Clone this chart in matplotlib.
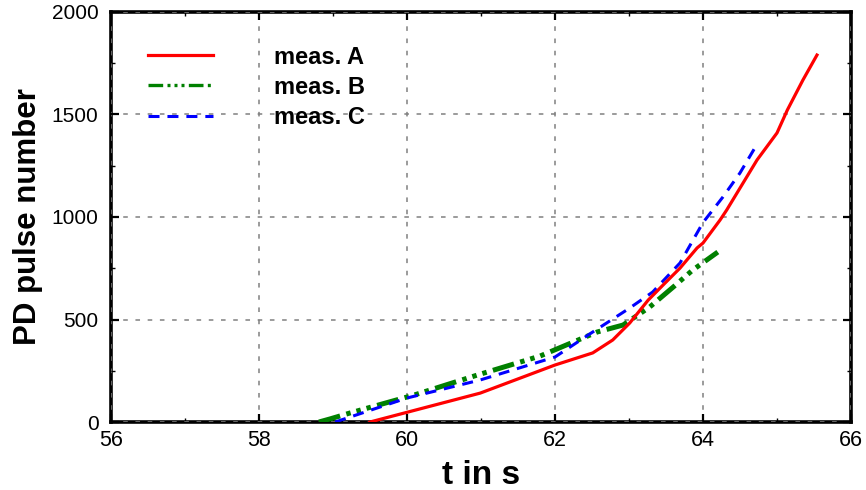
import matplotlib
matplotlib.use("Agg")
import matplotlib.pyplot as plt
from matplotlib.ticker import MultipleLocator

plt.rcParams['font.family'] = ['Liberation Sans', 'DejaVu Sans']

# measurement A (red, solid)
t_a = [59.5, 60.99, 62.0, 62.51, 62.78, 63.01, 63.26, 63.46, 63.69, 63.92,
       64.0, 64.23, 64.32, 64.73, 65.0, 65.14, 65.35, 65.54]
n_a = [0, 141, 278, 337, 400, 483, 595, 668, 751, 849,
       873, 985, 1034, 1278, 1410, 1522, 1668, 1790]

# measurement B (green, dash-dot-dot)
t_b = [58.81, 58.96, 59.23, 60.1, 60.95, 61.8, 62.57, 62.92, 63.28, 63.6, 63.86, 64.2]
n_b = [0, 15, 44, 132, 229, 322, 439, 473, 561, 659, 741, 829]

# measurement C (blue, dashed)
t_c = [59.03, 60.0, 60.99, 62.0, 62.51, 63.01, 63.32, 63.69, 64.0, 64.27, 64.5, 64.74]
n_c = [0, 117, 205, 317, 439, 556, 634, 776, 973, 1098, 1215, 1361]

labels = ['meas. A', 'meas. B', 'meas. C']
x_ticks = [56, 58, 60, 62, 64, 66]
y_ticks = [0, 500, 1000, 1500, 2000]

fig = plt.figure(figsize=(8.66, 4.9), dpi=100)
ax = fig.add_axes([111/866, 1 - 422/490, (851-111)/866, (422-12)/490])

green_pat = (0, (4.4, 1.3, 0.9, 1.2, 0.9, 1.2, 0.9, 1.3))
ax.plot(t_a, n_a, color='#ff0000', lw=2.3, ls='-', label=labels[0], zorder=4)
ax.plot(t_b, n_b, color='#008000', lw=3.6, ls=green_pat, label=labels[1], zorder=3)
ax.plot(t_c, n_c, color='#0000ff', lw=2.2, ls=(0, (3.6, 2.6)), label=labels[2], zorder=3)

ax.set_xlim(56, 66)
ax.set_ylim(0, 2000)
ax.set_xticks(x_ticks)
ax.set_yticks(y_ticks)
ax.xaxis.set_minor_locator(MultipleLocator(1))
ax.yaxis.set_minor_locator(MultipleLocator(250))
ax.tick_params(which='both', direction='in', top=True, right=True)
ax.tick_params(which='major', length=5.5, width=1.6)
ax.tick_params(which='minor', length=3, width=1.0)
ax.tick_params(axis='y', labelsize=15, pad=9)
ax.tick_params(axis='x', labelsize=15.5, pad=6)

for s in ax.spines.values():
    s.set_linewidth(2.6)

ax.grid(True, which='major', color='#808080', ls=(0, (3, 5)), lw=1.1)
ax.set_axisbelow(False)

ax.set_xlabel('t in s', fontsize=24, fontweight='bold', labelpad=6)
ax.set_ylabel('PD pulse number', fontsize=22.5, fontweight='bold', labelpad=6)

leg = ax.legend(loc='upper left', bbox_to_anchor=(0.05, 0.918), frameon=False,
                prop={'weight': 'bold', 'size': 17}, handlelength=2.75,
                handletextpad=2.6, labelspacing=0.3, borderpad=0,
                borderaxespad=0)
leg.get_lines()[1].set_linewidth(2.4)

fig.savefig('out.png', dpi=100)
